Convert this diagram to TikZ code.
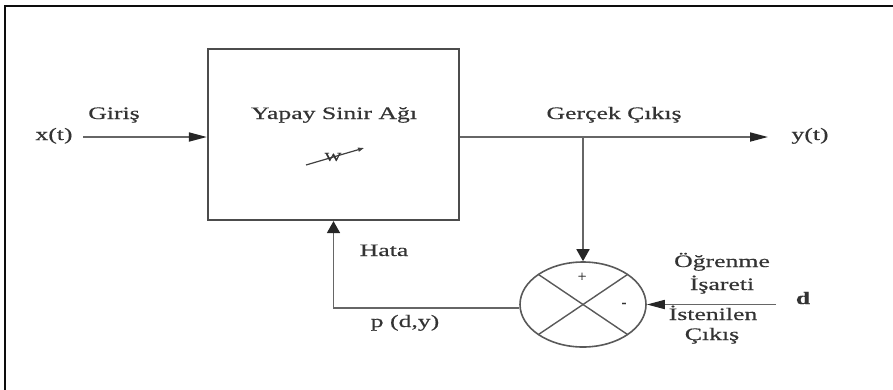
\documentclass[tikz,border=0pt]{standalone}
\usepackage{fontspec}
\setmainfont{Liberation Serif}[FakeBold=0.4]
\usetikzlibrary{arrows.meta,shapes.geometric,calc}
\newcommand\stx[1]{\scalebox{1.47}[1]{#1}}
\begin{document}
\begin{tikzpicture}[x=1pt,y=-1pt,
  lab/.style={inner sep=0pt, anchor=base, text=black!80, font=\fontsize{17.5}{20}\selectfont},
  conn/.style={draw=black!60, line width=1.7pt},
  harr/.style={-{Triangle[length=18pt,width=9pt,color=black!85]}},
  varr/.style={-{Triangle[length=12pt,width=13pt,color=black!85]}},
  blockbox/.style={draw=black!70, line width=2.2pt, minimum width=251pt, minimum height=171pt, inner sep=0pt},
  sumnode/.style={draw=black!65, line width=1.6pt, ellipse, minimum width=126pt, minimum height=85pt, inner sep=0pt},
  framebox/.style={draw=black!95, line width=2.4pt}]
\useasboundingbox (0,0) rectangle (893,389);
\clip (0,0) rectangle (893,389);
\draw[framebox] (5,400) -- (5,6) -- (900,6);

% nodes
\node[blockbox] (ysa) at (333.5,134.5) {};
\node[sumnode] (sum) at (583,304.5) {};
\coordinate (xs) at (83,137);
\coordinate (ye) at (768,137);
\coordinate (din) at (776,304.5);

% connectors
\draw[conn,harr] (xs) -- (xs -| ysa.west);
\draw[conn,harr] (xs -| ysa.east) -- (ye);
\draw[conn,varr] (sum.north |- ye) -- (sum.north);
\draw[conn,harr] (din) -- (sum.east);
\draw[conn,varr] ([yshift=-3.5pt]sum.west) -| (ysa.south);

% cross in summing junction
\draw[draw=black!65, line width=1.4pt] ($(sum.center)+(-44.5,-30)$) -- ($(sum.center)+(44.5,30)$);
\draw[draw=black!65, line width=1.4pt] ($(sum.center)+(-44.5,30)$) -- ($(sum.center)+(44.5,-30)$);
\node[lab, anchor=center, font=\fontsize{15}{17}\selectfont] (plus) at (582,277) {+};
\node[lab, anchor=center, font=\fontsize{15}{17}\selectfont] (minus) at (624,305) {-};

% adjustable weight symbol
\coordinate (wa) at (306,165);
\coordinate (wb) at (364,148);
\draw[draw=black!75, line width=1.2pt, -{Triangle[length=6pt,width=4pt]}] (wa) -- (wb);
\node[lab, anchor=center, font=\fontsize{12}{14}\selectfont] (w) at (333,157) {\stx{W}};

% labels
\node[lab] (lx) at (54,140) {\stx{x(t)}};
\node[lab] (lg) at (114,119) {\stx{Giriş}};
\node[lab] (ly) at (334,119) {\stx{Yapay Sinir Ağı}};
\node[lab] (lgc) at (614,119) {\stx{Gerçek Çıkış}};
\node[lab] (lyt) at (810,140) {\stx{y(t)}};
\node[lab] (lh) at (384,256) {\stx{Hata}};
\node[lab] (lp) at (405,327) {\stx{p (d,y)}};
\node[lab] (lo) at (722,267) {\stx{Öğrenme}};
\node[lab] (li) at (722,290) {\stx{İşareti}};
\node[lab] (lis) at (713,320) {\stx{İstenilen}};
\node[lab] (lc) at (712,340) {\stx{Çıkış}};
\node[lab] (ld) at (803,304) {\stx{\bfseries d}};
\end{tikzpicture}
\end{document}
